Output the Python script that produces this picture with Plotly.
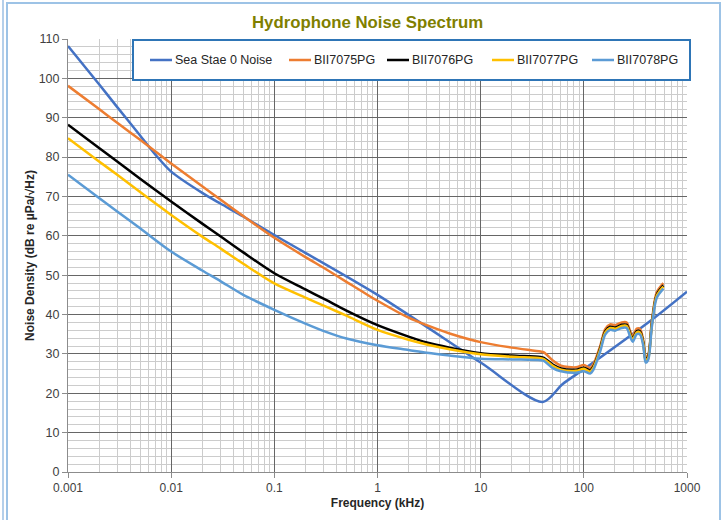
import plotly.graph_objects as go

# ---------------- data ----------------
sea_freq = [0.001, 0.002, 0.003, 0.005, 0.007, 0.01, 0.02, 0.03, 0.05, 0.1, 1, 10, 40, 62, 100, 463, 1000]
sea_vals = [108.2, 98.5, 92.7, 85.5, 80.7, 76.3, 70.9, 68.2, 64.9, 60.2, 45.0, 27.8, 17.8, 22.3, 26.1, 38.8, 45.8]

hp_freq = [0.001, 0.002, 0.003, 0.005, 0.01, 0.02, 0.03, 0.05, 0.1, 0.2, 0.317, 0.5, 1, 2, 3, 5, 10, 20,
           38, 41, 50, 60, 84, 100, 115, 124, 144, 161, 180, 201, 233, 260, 281, 298, 326, 351, 378,
           397, 422, 455, 508, 590]

bii7075 = [98.1, 92.2, 88.7, 84.4, 78.4, 72.6, 69.2, 65.0, 59.5, 54.6, 51.5, 48.3, 43.5, 39.2, 37.3, 35.2, 33.0, 31.6,
           30.6, 30.4, 28.3, 27.0, 26.6, 27.2, 26.4, 27.4, 32.0, 36.3, 37.5, 37.3, 38.0, 38.0, 35.8, 34.5, 36.4, 36.3, 33.3,
           29.1, 29.9, 38.0, 45.6, 48.0]
bii7076 = [88.2, 82.3, 78.9, 74.5, 68.7, 63.1, 59.9, 55.8, 50.5, 46.4, 43.7, 41.0, 37.3, 34.4, 32.9, 31.6, 30.2, 29.6,
           29.2, 29.0, 27.3, 26.3, 26.0, 26.5, 25.8, 26.8, 31.4, 35.7, 36.9, 36.7, 37.4, 37.4, 35.2, 33.9, 35.8, 35.7, 32.7,
           28.6, 29.4, 37.4, 45.0, 47.4]
bii7077 = [84.8, 78.9, 75.5, 71.1, 65.3, 59.8, 56.8, 52.9, 47.9, 44.3, 42.0, 39.7, 36.1, 33.6, 32.4, 31.2, 29.9, 29.3,
           28.9, 28.7, 27.0, 26.0, 25.7, 26.2, 25.5, 26.5, 31.1, 35.4, 36.6, 36.4, 37.1, 37.1, 34.9, 33.6, 35.5, 35.4, 32.4,
           28.3, 29.1, 37.1, 44.7, 47.1]
bii7078 = [75.5, 69.6, 66.2, 61.9, 56.0, 51.2, 48.5, 45.0, 41.2, 37.7, 35.6, 33.9, 32.2, 31.0, 30.3, 29.6, 28.8, 28.6,
           28.4, 28.2, 26.4, 25.6, 25.2, 25.6, 25.0, 26.0, 30.6, 34.9, 36.1, 35.9, 36.6, 36.6, 34.4, 33.1, 35.0, 34.9, 31.9,
           27.8, 28.6, 36.6, 44.2, 46.6]

series_names = ["Sea Stae 0 Noise", "BII7075PG", "BII7076PG", "BII7077PG", "BII7078PG"]
series_colors = ["#4472C4", "#ED7D31", "#000000", "#FFC000", "#5B9BD5"]

x_tickvals = [0.001, 0.01, 0.1, 1, 10, 100, 1000]
x_ticktext = ["0.001", "0.01", "0.1", "1", "10", "100", "1000"]
y_tickvals = list(range(0, 111, 10))

# ---------------- figure ----------------
W, H = 727, 520
L, R, T, B = 68, 40, 39, 48
pw, ph = W - L - R, H - T - B


def px(X):
    return (X - L) / pw


def py(Y):
    return (H - B - Y) / ph


fig = go.Figure()
all_series = [(sea_freq, sea_vals), (hp_freq, bii7075), (hp_freq, bii7076), (hp_freq, bii7077), (hp_freq, bii7078)]
for (fx, fy), name, col in zip(all_series, series_names, series_colors):
    fig.add_trace(go.Scatter(x=fx, y=fy, mode="lines", name=name, showlegend=False,
                             line=dict(color=col, width=2.5, shape="spline", smoothing=0.8)))

minor_x = [m * 10 ** e for e in range(-3, 3) for m in range(2, 10)]

font_family = "Liberation Sans, Arial, sans-serif"

fig.update_xaxes(type="log", range=[-3, 3], tickvals=x_tickvals, ticktext=x_ticktext,
                 showgrid=True, gridcolor="#666666", gridwidth=1,
                 minor=dict(tickmode="array", tickvals=minor_x, showgrid=True, gridcolor="#cccccc", gridwidth=1,
                            ticks=""),
                 showline=True, linecolor="#8c8c8c", linewidth=1,
                 ticks="outside", ticklen=5, tickcolor="#8c8c8c",
                 tickfont=dict(size=12, color="#404040", family=font_family),
                 title=dict(text="<b>Frequency (kHz)</b>", font=dict(size=12, color="#262626", family=font_family),
                            standoff=4),
                 zeroline=False, mirror=False)
fig.update_yaxes(range=[0, 110], tickvals=y_tickvals,
                 showgrid=True, gridcolor="#666666", gridwidth=1,
                 minor=dict(dtick=2, showgrid=True, gridcolor="#cccccc", gridwidth=1, ticks=""),
                 showline=True, linecolor="#8c8c8c", linewidth=1,
                 ticks="outside", ticklen=5, tickcolor="#8c8c8c",
                 tickfont=dict(size=12.5, color="#404040", family=font_family),
                 title=dict(text="<b>Noise Density (dB re µPa/√Hz)</b>",
                            font=dict(size=12, color="#262626", family=font_family), standoff=1),
                 zeroline=False)

shapes = [
    # outer chart frame
    dict(type="rect", xref="paper", yref="paper", x0=px(7), x1=px(720), y0=py(540), y1=py(3),
         line=dict(color="#9DC3E6", width=2), fillcolor="rgba(0,0,0,0)", layer="below"),
    dict(type="line", xref="paper", yref="paper", x0=px(3), x1=px(3), y0=py(540), y1=py(-5),
         line=dict(color="#B4CFEA", width=2)),
    # legend box
    dict(type="rect", xref="paper", yref="paper", x0=px(133), x1=px(690), y0=py(80), y1=py(40),
         line=dict(color="#2E75B6", width=2), fillcolor="white", layer="above"),
]

# manual legend entries (positions of the sample lines in px)
legend_x = [150, 289, 387, 492, 592]
annotations = []
for lx, name, col in zip(legend_x, series_names, series_colors):
    shapes.append(dict(type="line", xref="paper", yref="paper", x0=px(lx), x1=px(lx + 22),
                       y0=py(60), y1=py(60), line=dict(color=col, width=2.5), layer="above"))
    annotations.append(dict(xref="paper", yref="paper", x=px(lx + 23), y=py(60), text=name, showarrow=False,
                            xanchor="left", yanchor="middle",
                            font=dict(size=12.5, color="#262626", family=font_family)))

fig.update_layout(
    width=W, height=H,
    margin=dict(l=L, r=R, t=T, b=B),
    paper_bgcolor="white", plot_bgcolor="white",
    font=dict(family=font_family, size=12, color="#262626"),
    title=dict(text="<b>Hydrophone Noise Spectrum</b>", x=px(381), xanchor="center", y=1 - 22 / H, yanchor="middle",
               font=dict(size=16.8, color="#7F7F00", family=font_family)),
    showlegend=False,
    shapes=shapes,
    annotations=annotations,
)

fig.write_html("out.html")
